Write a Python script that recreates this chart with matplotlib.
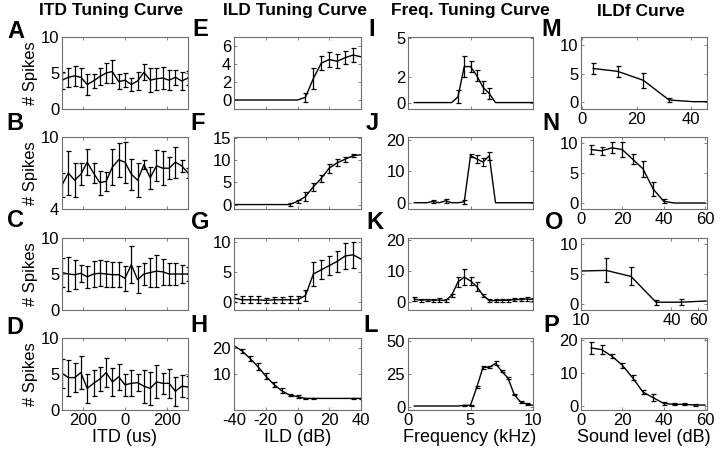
import matplotlib
matplotlib.use("Agg")
import matplotlib.pyplot as plt

plt.rcParams['font.family'] = ['Liberation Sans', 'DejaVu Sans']

# ---- data ----
itd_us = [-300, -270, -240, -210, -180, -150, -120, -90, -60, -30, 0,
          30, 60, 90, 120, 150, 180, 210, 240, 270, 300]
itd_a = [4.0, 4.4, 4.6, 4.4, 3.4, 3.9, 4.5, 5.0, 5.2, 3.8, 4.0,
         3.4, 3.9, 5.1, 4.0, 4.2, 4.3, 4.0, 4.4, 3.9, 4.3]
itd_a_err = [1.2, 1.3, 1.4, 1.3, 1.5, 1.0, 1.2, 1.4, 1.6, 1.0, 1.0,
             0.9, 1.3, 1.1, 1.7, 1.5, 1.5, 1.4, 1.0, 1.2, 1.0]
itd_b = [6.0, 7.0, 6.4, 6.9, 7.9, 7.0, 6.2, 6.3, 7.5, 8.1, 7.9,
         6.9, 6.4, 7.7, 6.6, 7.6, 7.4, 7.4, 7.9, 7.6, 7.0]
itd_b_err = [1.0, 1.8, 1.4, 0.9, 1.1, 0.8, 1.0, 0.8, 1.5, 1.4, 1.7,
             1.3, 1.4, 0.4, 0.9, 1.3, 1.4, 0.9, 1.3, 0.5, 0.4]
itd_c = [5.2, 5.0, 4.9, 5.1, 4.6, 5.0, 5.1, 5.0, 4.9, 4.9, 4.4,
         6.3, 4.2, 5.0, 5.2, 5.4, 5.3, 5.0, 5.0, 5.0, 5.0]
itd_c_err = [2.0, 2.3, 2.0, 1.2, 1.5, 1.8, 1.8, 1.8, 1.7, 1.7, 1.7,
             2.6, 1.9, 1.5, 2.0, 2.2, 1.8, 1.5, 1.5, 1.2, 1.0]
itd_d = [5.1, 4.5, 4.5, 5.2, 3.0, 3.7, 4.3, 5.2, 3.9, 4.6, 3.5,
         3.7, 3.8, 3.3, 3.0, 3.9, 3.7, 3.7, 2.6, 3.3, 3.2]
itd_d_err = [2.0, 2.5, 2.0, 2.3, 2.0, 1.8, 1.7, 2.0, 2.0, 1.8, 1.5,
             1.8, 1.2, 2.3, 2.3, 2.3, 1.5, 2.0, 2.0, 1.5, 1.5]

ild_db = [-40, -35, -30, -25, -20, -15, -10, -5, 0,
          5, 10, 15, 20, 25, 30, 35, 40]
ild_e = [0, 0, 0, 0, 0, 0, 0, 0, 0, 0.3, 2.4, 4.1, 4.5, 4.3, 4.7, 5.0, 4.8]
ild_e_err = [0, 0, 0, 0, 0, 0, 0, 0, 0, 0.5, 1.2, 0.8, 0.8, 0.8, 0.7, 0.8, 0]
ild_f = [0, 0, 0, 0, 0, 0, 0, 0.0, 0.7, 1.8, 4.0, 5.9, 8.2, 9.4, 10.2, 11.0, 11.2]
ild_f_err = [0, 0, 0, 0, 0, 0, 0, 0.3, 0.4, 1.0, 0.9, 0.8, 1.0, 0.8, 0.6, 0.4, 0]
ild_g = [0.7, 0.4, 0.4, 0.4, 0.3, 0.4, 0.4, 0.4, 0.4, 1.1, 4.7, 5.4, 6.1, 6.8, 7.7, 7.9, 7.2]
ild_g_err = [0.6, 0.6, 0.6, 0.6, 0.4, 0.5, 0.5, 0.6, 0.6, 0.9, 2.0, 1.6, 1.6, 1.7, 2.2, 2.2, 0]
ild_h = [21.0, 19.0, 16.1, 12.9, 9.2, 6.0, 3.5, 1.8, 1.2, 0.5, 0.5, 0.5, 0.5, 0.5, 0.5, 0.5, 0.5]
ild_h_err = [0, 0.8, 1.0, 1.2, 1.0, 0.9, 0.9, 0.5, 0.6, 0.3, 0.2, 0, 0, 0, 0, 0.2, 0.2]

freq_khz = [0.5, 1.0, 1.5, 2.0, 2.5, 3.0, 3.5, 4.0, 4.5, 5.0,
            5.5, 6.0, 6.5, 7.0, 7.5, 8.0, 8.5, 9.0, 9.5, 10.0]
freq_i = [0, 0, 0, 0, 0, 0, 0, 0.45, 2.8, 2.8, 2.1, 1.2, 0.7, 0, 0, 0, 0, 0, 0, 0]
freq_i_err = [0, 0, 0, 0, 0, 0, 0, 0.5, 0.85, 0.45, 0.45, 0.45, 0.45, 0, 0, 0, 0, 0, 0, 0]
freq_j = [0, 0, 0, 0.4, 0, 0.6, 0, 0, 0.3, 15.0, 14.0, 13.0, 15.0, 0, 0, 0, 0, 0, 0, 0]
freq_j_err = [0, 0, 0, 0.6, 0, 0.6, 0, 0, 0.6, 0.5, 1.2, 1.2, 1.2, 0, 0, 0, 0, 0, 0, 0]
freq_k = [1.0, 0.6, 0.8, 0.6, 0.7, 0.5, 2.2, 6.5, 8.0, 6.8,
          5.0, 2.2, 0.5, 0.5, 0.6, 0.6, 0.8, 0.9, 1.0, 0.9]
freq_k_err = [0.6, 0.5, 0.3, 0.5, 0.5, 0.5, 0.4, 1.5, 2.5, 1.3,
              1.4, 0.4, 0.4, 0.4, 0.4, 0.4, 0.4, 0.5, 0.6, 0.5]
freq_l = [1.0, 1.0, 1.0, 1.0, 1.0, 1.0, 1.0, 1.0, 1.5, 1.5,
          15.0, 30.0, 30.0, 33.0, 27.0, 22.0, 9.5, 4.0, 2.5, 1.5]
freq_l_err = [0, 0, 0, 0, 0, 0, 0, 0, 0.3, 0.5,
              0.8, 1.0, 0.8, 1.5, 0.8, 1.0, 0.5, 0.4, 0.4, 0]

level_m = [4, 13, 22.5, 32, 41, 46]
ildf_m = [5.9, 5.4, 3.8, 0.3, 0.0, 0.0]
ildf_m_err = [1.0, 1.0, 1.3, 0.3, 0, 0]
level_n = [5, 10, 15, 20, 25, 30, 35, 40, 45, 50, 55, 60]
ildf_n = [8.9, 8.7, 9.2, 8.9, 7.3, 5.7, 2.3, 0.3, 0, 0, 0, 0]
ildf_n_err = [0.8, 0.7, 0.9, 1.2, 0.8, 1.3, 1.2, 0.3, 0, 0, 0, 0]
level_o = [10, 14.7, 21.5, 31.6, 46.4, 68]
ildf_o = [5.5, 5.6, 4.6, 0.3, 0.3, 0.5]
ildf_o_err = [0, 2.0, 1.5, 0.4, 0.5, 0]
level_p = [5, 10, 15, 20, 25, 30, 35, 40, 45, 50, 55, 60]
ildf_p = [17.5, 17.0, 15.0, 12.3, 8.5, 4.2, 2.5, 0.8, 0.5, 0.5, 0.3, 0.3]
ildf_p_err = [1.7, 1.3, 0.6, 0.8, 0.7, 0.5, 1.1, 0.4, 0.3, 0.3, 0.2, 0]

# ---- layout (pixels of a 720x462 canvas) ----
W, H = 720, 462
col_x = [(62, 188), (234, 361), (408, 533), (581, 707)]
row_y = [(37, 109), (137, 209), (238, 310), (338, 410)]

fig = plt.figure(figsize=(7.2, 4.62), dpi=100)


def panel(col, row, x, y, err, xlim, ylim, yticks, xticks, xlabels=None, logx=False):
    l, r = col_x[col]
    t, b = row_y[row]
    ax = fig.add_axes([l / W, 1 - b / H, (r - l) / W, (b - t) / H])
    if logx:
        ax.set_xscale('log')
        ax.minorticks_off()
    ax.plot(x, y, color='black', lw=1.0)
    xe = [xx for xx, e in zip(x, err) if e > 0]
    ye = [yy for yy, e in zip(y, err) if e > 0]
    ee = [e for e in err if e > 0]
    ax.errorbar(xe, ye, yerr=ee, fmt='none', ecolor='black',
                elinewidth=0.9, capsize=1.8, capthick=0.9)
    ax.set_xlim(xlim)
    ax.set_ylim(ylim)
    ax.set_yticks(yticks)
    ax.set_xticks(xticks)
    if xlabels is None:
        ax.set_xticklabels([])
    else:
        ax.set_xticklabels(xlabels)
    ax.tick_params(direction='in', length=2.5, width=0.6, labelsize=12,
                   top=True, right=True, pad=2, colors='#6e6e6e',
                   labelcolor='black')
    for s in ax.spines.values():
        s.set_color('#6e6e6e')
        s.set_linewidth(0.8)
    return ax


# column 1: ITD
for row, (yy, ee) in enumerate([(itd_a, itd_a_err), (itd_b, itd_b_err),
                                (itd_c, itd_c_err), (itd_d, itd_d_err)]):
    if row == 1:
        ylim, yt = (4, 10), [4, 10]
    else:
        ylim, yt = (0, 10), [0, 5, 10]
    lab = ['200', '0', '200'] if row == 3 else None
    ax = panel(0, row, itd_us, yy, ee, (-300, 300), ylim, yt, [-200, 0, 200], lab)
    ax.set_ylabel('# Spikes', fontsize=12, labelpad=2)

# column 2: ILD
panel(1, 0, ild_db, ild_e, ild_e_err, (-40, 40), (-1, 7), [0, 2, 4, 6], [-40, -20, 0, 20, 40])
panel(1, 1, ild_db, ild_f, ild_f_err, (-40, 40), (-1, 15.2), [0, 5, 10, 15], [-40, -20, 0, 20, 40])
panel(1, 2, ild_db, ild_g, ild_g_err, (-40, 40), (-1.3, 10.7), [0, 5, 10], [-40, -20, 0, 20, 40])
panel(1, 3, ild_db, ild_h, ild_h_err, (-40, 40), (-4, 24), [10, 20], [-40, -20, 0, 20, 40],
      ['-40', '-20', '0', '20', '40'])

# column 3: frequency
panel(2, 0, freq_khz, freq_i, freq_i_err, (0, 10), (-0.5, 5.1), [0, 2, 5], [0, 5, 10])
panel(2, 1, freq_khz, freq_j, freq_j_err, (0, 10), (-2, 21), [0, 10, 20], [0, 5, 10])
panel(2, 2, freq_khz, freq_k, freq_k_err, (0, 10), (-2.5, 20.5), [0, 10, 20], [0, 5, 10])
panel(2, 3, freq_khz, freq_l, freq_l_err, (0, 10), (-2, 52), [0, 25, 50], [0, 5, 10],
      ['0', '5', '10'])

# column 4: ILDf
panel(3, 0, level_m, ildf_m, ildf_m_err, (-0.5, 46), (-1.3, 11.5), [0, 5, 10], [0, 20, 40],
      ['0', '20', '40'])
panel(3, 1, level_n, ildf_n, ildf_n_err, (0, 61), (-1, 11), [0, 5, 10], [0, 20, 40, 60],
      ['0', '20', '40', '60'])
panel(3, 2, level_o, ildf_o, ildf_o_err, (10, 69), (-1, 11), [0, 5, 10], [10, 40, 60],
      ['10', '40', '60'], logx=True)
panel(3, 3, level_p, ildf_p, ildf_p_err, (0, 61), (-1.2, 20.5), [0, 10, 20], [0, 20, 40, 60],
      ['0', '20', '40', '60'])

# column titles
titles = ['ITD Tuning Curve', 'ILD Tuning Curve', 'Freq. Tuning Curve', 'ILDf Curve']
title_x = [111, 295, 470, 641]
for t, x in zip(titles, title_x):
    fig.text(x / W, 1 - 11 / H, t, ha='center', va='center', fontsize=12.5,
             fontweight='bold')

# panel letters
letters = ['A', 'B', 'C', 'D', 'E', 'F', 'G', 'H',
           'I', 'J', 'K', 'L', 'M', 'N', 'O', 'P']
letter_x = [16, 15, 15, 15, 200, 198, 200, 199, 372, 372, 375, 371, 551, 551, 554, 551]
letter_y = [31, 124, 221, 327, 30, 124, 222, 326, 30, 124, 222, 326, 30, 124, 222, 326]
for s, x, y in zip(letters, letter_x, letter_y):
    fig.text(x / W, 1 - y / H, s, ha='center', va='center', fontsize=17,
             fontweight='bold')

# x labels
xlabels = ['ITD (us)', 'ILD (dB)', 'Frequency (kHz)', 'Sound level (dB)']
xlabel_x = [125, 298, 470, 644]
for t, x in zip(xlabels, xlabel_x):
    fig.text(x / W, 1 - 437 / H, t, ha='center', va='center', fontsize=13)

fig.savefig('out.png', dpi=100)
